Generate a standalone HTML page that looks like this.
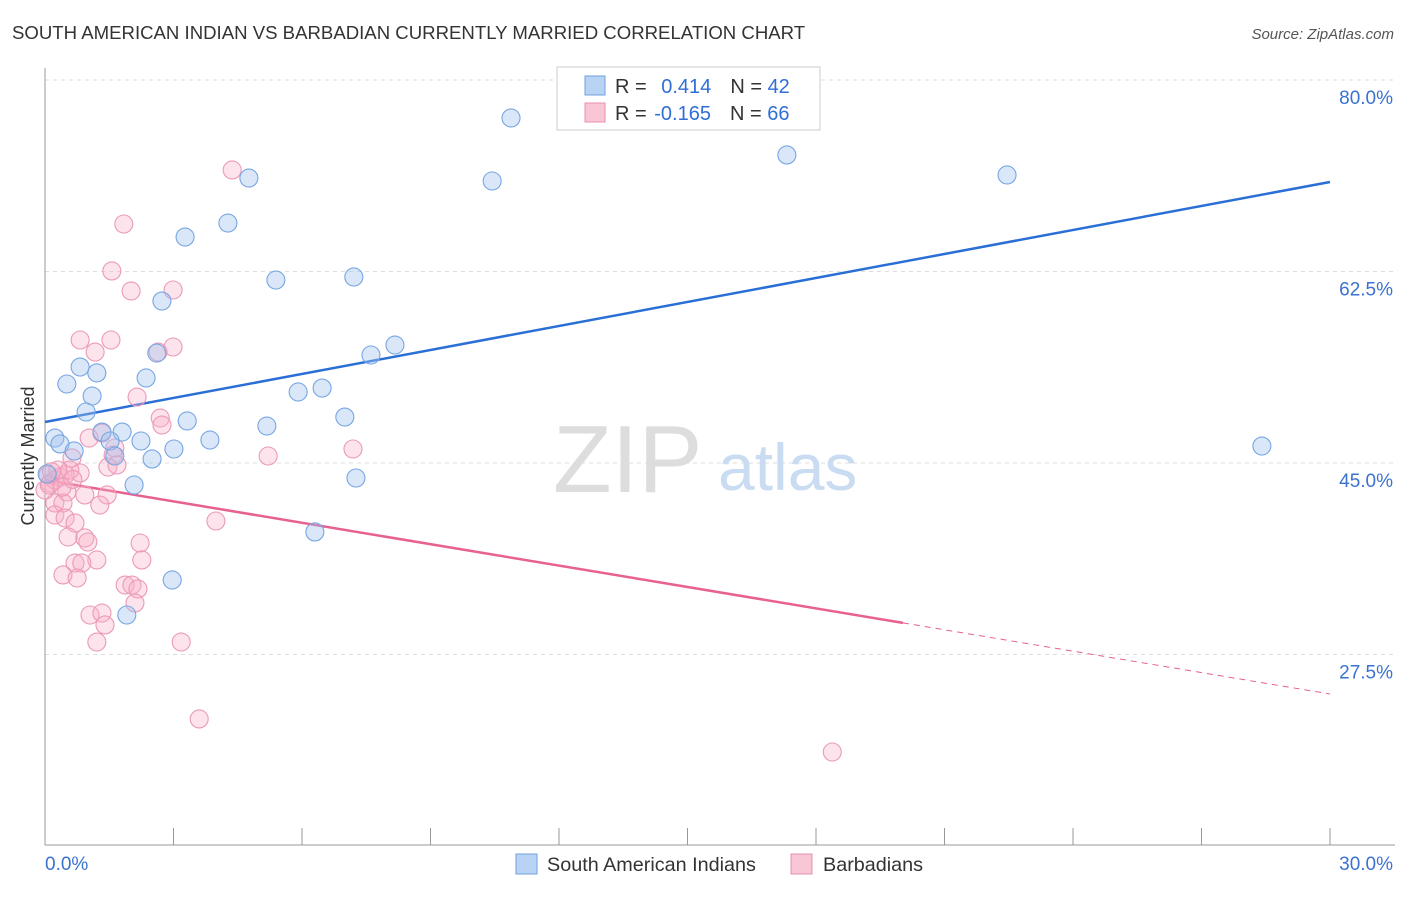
<!DOCTYPE html>
<html><head><meta charset="utf-8"><style>
body{margin:0;background:#fff;font-family:"Liberation Sans",sans-serif;}
svg text{font-family:"Liberation Sans",sans-serif;}
</style></head><body>
<svg id="chart" width="1406" height="892">
<text x="12" y="39" font-size="18.6" fill="#333">SOUTH AMERICAN INDIAN VS BARBADIAN CURRENTLY MARRIED CORRELATION CHART</text>
<text x="1394" y="39" font-size="15" fill="#555" font-style="italic" text-anchor="end">Source: ZipAtlas.com</text>
<text x="34" y="456" font-size="18" fill="#333" text-anchor="middle" transform="rotate(-90 34 456)">Currently Married</text>
<g id="grid"></g>
<text x="553" y="492" font-size="96" fill="#ddd" font-family="Liberation Serif">ZIP</text>
<text x="718" y="490" font-size="66" fill="#c9dcf2">atlas</text>
<g id="lines"></g>
<g id="points"></g>
<g>
<rect x="557" y="67" width="263" height="63" fill="#fff" stroke="#ccc"/>
<rect x="585" y="76" width="20" height="19" fill="#b9d3f5" stroke="#6fa0e0"/>
<rect x="585" y="103" width="20" height="19" fill="#f9c6d5" stroke="#e890ae"/>
<text x="615" y="93" font-size="20" fill="#333">R = <tspan fill="#2f6fd6" dx="9">0.414</tspan><tspan fill="#333" dx="19">N = </tspan><tspan fill="#2f6fd6">42</tspan></text>
<text x="615" y="120" font-size="20" fill="#333">R = <tspan fill="#2f6fd6" dx="2">-0.165</tspan><tspan fill="#333" dx="19">N = </tspan><tspan fill="#2f6fd6">66</tspan></text>
</g>
<g>
<rect x="516" y="854" width="21" height="20" fill="#b9d3f5" stroke="#6fa0e0"/>
<text x="547" y="871" font-size="19.8" fill="#333">South American Indians</text>
<rect x="791" y="854" width="21" height="20" fill="#f9c6d5" stroke="#e890ae"/>
<text x="823" y="871" font-size="19.8" fill="#333">Barbadians</text>
</g>
</svg>
<script>
const yTicks=[80,62.5,45,27.5];
const yTickLabels=["80.0%","62.5%","45.0%","27.5%"];
const xTickLabels=["0.0%","30.0%"];
const blueX=[10.88,17.32,22.46,10.44,4.76,4.27,3.27,5.39,7.21,2.73,8.17,7.61,2.61,0.82,1.21,0.51,2.36,5.91,6.47,1.10,0.96,3.32,7.0,5.18,1.33,1.80,0.23,1.52,2.24,3.85,0.35,0.68,3.01,2.50,1.63,28.41,7.26,2.08,0.05,6.30,2.97,1.91];
const blueY=[76.53,73.15,71.32,70.77,71.04,66.93,65.65,61.72,62.0,59.8,55.78,54.87,55.05,53.77,53.23,52.22,52.77,51.49,51.85,51.12,49.66,48.84,49.2,48.38,47.83,47.83,47.28,47.01,47.01,47.1,46.74,46.1,46.28,45.37,45.64,46.55,43.63,42.99,44.0,38.7,34.31,31.11];
const pinkX=[4.37,1.84,1.56,2.01,2.99,0.82,1.54,1.17,2.64,2.99,2.15,2.69,2.73,1.03,1.33,1.63,1.59,1.47,1.68,0.63,0.82,0.51,0.93,1.45,1.28,0.23,0.42,0.23,0.47,0.70,0.54,0.93,1.0,1.21,2.22,2.26,0.70,0.86,0.42,0.75,1.87,2.03,2.17,2.10,1.05,1.33,1.40,1.21,3.18,5.21,7.19,3.99,0.12,0.07,0.23,0.0,0.35,0.47,3.60,18.38,0.58,0.30,0.10,0.40,0.15,0.65];
const pinkY=[71.78,66.84,62.55,60.72,60.81,56.24,56.24,55.14,55.14,55.6,51.03,49.11,48.47,47.28,47.74,46.37,45.73,44.63,44.82,45.46,44.09,42.35,42.08,42.08,41.16,41.35,41.35,40.25,39.97,39.52,38.24,38.15,37.78,36.14,37.69,36.14,35.86,35.86,34.77,34.49,33.85,33.85,33.49,32.21,31.11,31.29,30.2,28.64,28.64,45.64,46.28,39.7,43.17,43.9,43.45,42.53,43.72,43.9,21.61,18.59,44.36,44.36,43.0,42.8,44.2,43.5];
const blueTrend=[48.75,70.68]; // at x=0 and x=30
const pinkTrend=[43.45,23.89]; // at x=0 and x=30
const pinkSolidEnd=20.03;
const NS="http://www.w3.org/2000/svg";
const X=v=>45+v*(1285/30);
const Y=v=>80+(80-v)*(191.5/17.5);
function mk(t,a,p){const e=document.createElementNS(NS,t);for(const k in a)e.setAttribute(k,a[k]);p.appendChild(e);return e;}
const grid=document.getElementById('grid');
yTicks.forEach((t,i)=>{
 const l=mk('line',{x1:45,x2:1395,y1:Y(t),y2:Y(t),stroke:'#ddd','stroke-dasharray':'4,4'},grid);
 
 
 const tx=mk('text',{x:1393,y:Y(t)+24,'font-size':19,fill:'#3b72d0','text-anchor':'end'},grid);
 tx.textContent=yTickLabels[i];
 
 
});
const ya=mk('line',{x1:45,x2:45,y1:68,y2:845,stroke:'#999'},grid);


const xa=mk('line',{x1:45,x2:1395,y1:845,y2:845,stroke:'#999'},grid);


for(let i=0;i<=10;i++){
 const t=mk('line',{x1:X(i*3),x2:X(i*3),y1:828,y2:845,stroke:'#999'},grid);
 
 
}
[[0,'start',45],[30,'end',1393]].forEach((d,i)=>{
 const t=mk('text',{x:d[2],y:870,'font-size':19,fill:'#3b72d0','text-anchor':d[1]},grid);
 t.textContent=xTickLabels[i];
 
 
});
const pts=document.getElementById('points');
function plot(xs,ys,fill,stroke,name){
 xs.forEach((x,i)=>{
  const c=mk('circle',{cx:X(x),cy:Y(ys[i]),r:9,fill:fill,stroke:stroke,'stroke-width':1.1},pts);
  
  
 });
}
plot(pinkX,pinkY,'rgba(248,175,198,0.35)','#eb9ab8','barbadian-point');
plot(blueX,blueY,'rgba(160,196,240,0.4)','#78a6e2','south-american-indian-point');
const ln=document.getElementById('lines');
const bl=mk('line',{x1:X(0),y1:Y(blueTrend[0]),x2:X(30),y2:Y(blueTrend[1]),stroke:'#2a6fd6','stroke-width':2.5},ln);


const pAt=x=>pinkTrend[0]+(pinkTrend[1]-pinkTrend[0])*x/30;
const pl=mk('line',{x1:X(0),y1:Y(pinkTrend[0]),x2:X(pinkSolidEnd),y2:Y(pAt(pinkSolidEnd)),stroke:'#e8608f','stroke-width':2.5},ln);


const pd=mk('line',{x1:X(pinkSolidEnd),y1:Y(pAt(pinkSolidEnd)),x2:X(30),y2:Y(pinkTrend[1]),stroke:'#e8608f','stroke-width':1,'stroke-dasharray':'6,5'},ln);


</script>
</body></html>
